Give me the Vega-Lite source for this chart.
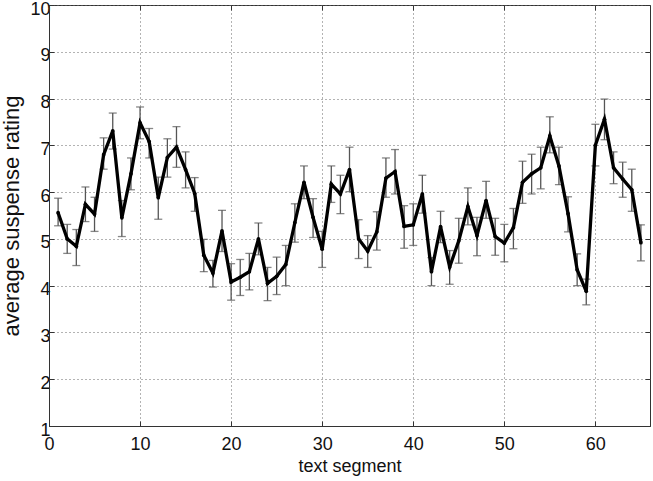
{
  "$schema": "https://vega.github.io/schema/vega-lite/v6.json",
  "width": 601,
  "height": 421,
  "autosize": {"type": "none"},
  "padding": {"left": 49, "top": 5, "right": 3, "bottom": 55},
  "background": "white",
  "config": {
    "view": {"stroke": "#333", "strokeWidth": 1},
    "axis": {
      "labelFont": "Liberation Sans",
      "titleFont": "Liberation Sans",
      "labelFontSize": 18,
      "titleFontSize": 18,
      "labelColor": "#111",
      "titleColor": "#111",
      "titleFontWeight": "normal",
      "gridColor": "#666",
      "gridDash": [1, 3],
      "gridOpacity": 1,
      "domainColor": "#333",
      "tickColor": "#333",
      "tickSize": -5
    }
  },
  "data": {
    "values": [
      {"s": 1, "m": 5.56, "lo": 5.28, "hi": 5.87},
      {"s": 2, "m": 5.0, "lo": 4.69, "hi": 5.31},
      {"s": 3, "m": 4.84, "lo": 4.43, "hi": 5.2},
      {"s": 4, "m": 5.74, "lo": 5.37, "hi": 6.11},
      {"s": 5, "m": 5.53, "lo": 5.16, "hi": 5.89},
      {"s": 6, "m": 6.8, "lo": 6.49, "hi": 7.16},
      {"s": 7, "m": 7.31, "lo": 6.92, "hi": 7.69},
      {"s": 8, "m": 5.45, "lo": 5.05, "hi": 5.82},
      {"s": 9, "m": 6.39, "lo": 6.05, "hi": 6.73},
      {"s": 10, "m": 7.48, "lo": 7.14, "hi": 7.82},
      {"s": 11, "m": 7.08, "lo": 6.73, "hi": 7.36},
      {"s": 12, "m": 5.88, "lo": 5.42, "hi": 6.32},
      {"s": 13, "m": 6.74, "lo": 6.32, "hi": 7.14},
      {"s": 14, "m": 6.96, "lo": 6.53, "hi": 7.4},
      {"s": 15, "m": 6.48, "lo": 6.09, "hi": 6.86},
      {"s": 16, "m": 5.97, "lo": 5.59, "hi": 6.31},
      {"s": 17, "m": 4.65, "lo": 4.3, "hi": 4.99},
      {"s": 18, "m": 4.27, "lo": 3.97, "hi": 4.54},
      {"s": 19, "m": 5.17, "lo": 4.73, "hi": 5.61},
      {"s": 20, "m": 4.08, "lo": 3.69, "hi": 4.47},
      {"s": 21, "m": 4.18, "lo": 3.79, "hi": 4.56},
      {"s": 22, "m": 4.3, "lo": 3.91, "hi": 4.69},
      {"s": 23, "m": 5.0, "lo": 4.66, "hi": 5.34},
      {"s": 24, "m": 4.05, "lo": 3.68, "hi": 4.39},
      {"s": 25, "m": 4.2, "lo": 3.81, "hi": 4.61},
      {"s": 26, "m": 4.45, "lo": 4.0, "hi": 4.86},
      {"s": 27, "m": 5.35, "lo": 4.93, "hi": 5.75},
      {"s": 28, "m": 6.21, "lo": 5.86, "hi": 6.56},
      {"s": 29, "m": 5.46, "lo": 5.03, "hi": 5.86},
      {"s": 30, "m": 4.78, "lo": 4.39, "hi": 5.16},
      {"s": 31, "m": 6.17, "lo": 5.78, "hi": 6.56},
      {"s": 32, "m": 5.96, "lo": 5.54, "hi": 6.36},
      {"s": 33, "m": 6.48, "lo": 6.01, "hi": 6.96},
      {"s": 34, "m": 5.0, "lo": 4.58, "hi": 5.41},
      {"s": 35, "m": 4.74, "lo": 4.39, "hi": 5.07},
      {"s": 36, "m": 5.15, "lo": 4.76, "hi": 5.58},
      {"s": 37, "m": 6.3, "lo": 5.89, "hi": 6.73},
      {"s": 38, "m": 6.44, "lo": 5.96, "hi": 6.91},
      {"s": 39, "m": 5.27, "lo": 4.8, "hi": 5.71},
      {"s": 40, "m": 5.3, "lo": 4.86, "hi": 5.75},
      {"s": 41, "m": 5.96, "lo": 5.55, "hi": 6.36},
      {"s": 42, "m": 4.3, "lo": 4.0, "hi": 4.6},
      {"s": 43, "m": 5.26, "lo": 4.92, "hi": 5.59},
      {"s": 44, "m": 4.4, "lo": 4.03, "hi": 4.75},
      {"s": 45, "m": 4.96, "lo": 4.48, "hi": 5.44},
      {"s": 46, "m": 5.69, "lo": 5.3, "hi": 6.09},
      {"s": 47, "m": 5.07, "lo": 4.64, "hi": 5.46},
      {"s": 48, "m": 5.82, "lo": 5.44, "hi": 6.23},
      {"s": 49, "m": 5.05, "lo": 4.65, "hi": 5.44},
      {"s": 50, "m": 4.91, "lo": 4.51, "hi": 5.31},
      {"s": 51, "m": 5.24, "lo": 4.79, "hi": 5.65},
      {"s": 52, "m": 6.21, "lo": 5.76, "hi": 6.66},
      {"s": 53, "m": 6.39, "lo": 5.96, "hi": 6.81},
      {"s": 54, "m": 6.52, "lo": 6.07, "hi": 6.96},
      {"s": 55, "m": 7.2, "lo": 6.84, "hi": 7.61},
      {"s": 56, "m": 6.56, "lo": 6.16, "hi": 6.96},
      {"s": 57, "m": 5.54, "lo": 5.15, "hi": 5.9},
      {"s": 58, "m": 4.34, "lo": 4.0, "hi": 4.68},
      {"s": 59, "m": 3.88, "lo": 3.59, "hi": 4.14},
      {"s": 60, "m": 7.0, "lo": 6.56, "hi": 7.45},
      {"s": 61, "m": 7.56, "lo": 7.12, "hi": 7.99},
      {"s": 62, "m": 6.52, "lo": 6.18, "hi": 6.86},
      {"s": 63, "m": 6.28, "lo": 5.89, "hi": 6.64},
      {"s": 64, "m": 6.05, "lo": 5.59, "hi": 6.49},
      {"s": 65, "m": 4.92, "lo": 4.53, "hi": 5.3}
    ]
  },
  "resolve": {"axis": {"x": "independent", "y": "independent"}},
  "layer": [
    {
      "mark": {"type": "errorbar", "color": "#555", "thickness": 1.3, "ticks": {"size": 8, "color": "#555"}},
      "encoding": {
        "x": {
          "field": "s", "type": "quantitative",
          "scale": {"domain": [0, 66], "nice": false},
          "axis": {"values": [0, 10, 20, 30, 40, 50, 60], "title": "text segment", "grid": true, "labelPadding": 14, "titlePadding": 4, "labelFlush": false}
        },
        "y": {
          "field": "lo", "type": "quantitative",
          "scale": {"domain": [1, 10], "nice": false},
          "axis": {"values": [1, 2, 3, 4, 5, 6, 7, 8, 9, 10], "title": "average suspense rating", "grid": true, "labelPadding": 4, "labelOffset": 4, "titlePadding": 6, "titleFontSize": 22, "labelFlush": false}
        },
        "y2": {"field": "hi"}
      }
    },
    {
      "mark": {"type": "line", "color": "black", "strokeWidth": 3.3, "strokeJoin": "miter"},
      "encoding": {
        "x": {"field": "s", "type": "quantitative", "axis": null},
        "y": {"field": "m", "type": "quantitative", "axis": null}
      }
    },
    {
      "mark": {"type": "point", "filled": true, "color": "black", "size": 14, "opacity": 1},
      "encoding": {
        "x": {"field": "s", "type": "quantitative", "axis": {"orient": "top", "values": [0, 10, 20, 30, 40, 50, 60], "labels": false, "title": null, "grid": false, "domain": false}},
        "y": {"field": "m", "type": "quantitative", "axis": {"orient": "right", "values": [1, 2, 3, 4, 5, 6, 7, 8, 9, 10], "labels": false, "title": null, "grid": false, "domain": false}}
      }
    }
  ]
}
